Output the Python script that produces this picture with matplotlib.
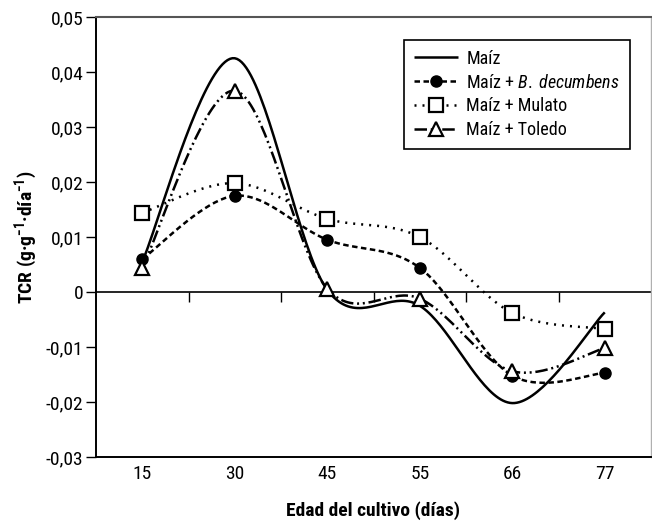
import numpy as np
import matplotlib.pyplot as plt
from matplotlib import font_manager
from matplotlib.ticker import FixedLocator, NullFormatter

nombres = {f.name for f in font_manager.fontManager.ttflist}
angostas = [n for n in ['Liberation Sans Narrow', 'Roboto Condensed', 'DejaVu Sans Condensed',
                        'Liberation Sans'] if n in nombres]
fuente = angostas[0] if angostas else 'DejaVu Sans'

plt.rcParams['font.family'] = [fuente, 'DejaVu Sans']
plt.rcParams['mathtext.fontset'] = 'custom'
plt.rcParams['mathtext.it'] = fuente + ':italic'
plt.rcParams['mathtext.rm'] = fuente
plt.rcParams['mathtext.bf'] = fuente + ':bold'

dias = ['15', '30', '45', '55', '66', '77']
maiz = [0.0055, 0.0425, 0.0004, -0.0025, -0.0202, -0.0037]
decumbens = [0.0060, 0.0175, 0.0095, 0.0044, -0.0152, -0.0147]
mulato = [0.0144, 0.0198, 0.0133, 0.0100, -0.0038, -0.0067]
toledo = [0.0044, 0.0366, 0.0006, -0.0012, -0.0144, -0.0102]

yticks = [-0.03, -0.02, -0.01, 0, 0.01, 0.02, 0.03, 0.04, 0.05]
yticklabels = ['-0,03', '-0,02', '-0,01', '0', '0,01', '0,02', '0,03', '0,04', '0,05']


def suave(y, n=40):
    # bezier spline through the points, like a spreadsheet "smoothed line"
    x = np.arange(len(y), dtype=float)
    y = np.asarray(y, dtype=float)
    px = np.concatenate([[x[0]], x, [x[-1]]])
    py = np.concatenate([[y[0]], y, [y[-1]]])
    t = np.linspace(0, 1, n, endpoint=False)
    xs, ys = [], []
    for i in range(len(y) - 1):
        for p, out in ((px, xs), (py, ys)):
            b0 = p[i + 1]
            b3 = p[i + 2]
            b1 = b0 + (p[i + 2] - p[i]) / 6
            b2 = b3 - (p[i + 3] - p[i + 1]) / 6
            out.append((1 - t)**3*b0 + 3*(1 - t)**2*t*b1 + 3*(1 - t)*t**2*b2 + t**3*b3)
    xs.append([x[-1]])
    ys.append([y[-1]])
    idx = [i*n for i in range(len(y))]
    return np.concatenate(xs), np.concatenate(ys), idx


fig = plt.figure(figsize=(6.52, 5.25), dpi=100)
ax = fig.add_axes([96/652, 1 - 457/525, 555/652, 440/525])

series = [
    (maiz, 'Maíz', dict(ls='-', lw=1.8, marker=None)),
    (decumbens, 'Maíz + $\\it{B.}$ $\\it{decumbens}$',
     dict(ls=(0, (2.2, 1.4)), lw=1.8, marker='o', ms=8, mfc='black')),
    (mulato, 'Maíz + Mulato',
     dict(ls=(0, (0.8, 2.4)), lw=1.8, marker='s', ms=10, mfc='white', mew=1.6)),
    (toledo, 'Maíz + Toledo',
     dict(ls=(0, (5, 1.5, 0.8, 1.5, 0.8, 1.5)), lw=1.8, marker='^', ms=10, mfc='white', mew=1.6)),
]

for vals, lab, st in series:
    xs, ys, idx = suave(vals)
    ax.plot(xs, ys, color='black', markevery=idx, label=lab, solid_capstyle='butt',
            dash_capstyle='butt', **st)

ax.set_xlim(-0.5, len(dias) - 0.5)
ax.set_ylim(-0.03, 0.05)
ax.set_yticks(yticks)
ax.set_yticklabels(yticklabels)
ax.set_xticks(range(len(dias)))
ax.set_xticklabels(dias)
ax.tick_params(axis='x', length=0, pad=6, labelsize=14)
ax.tick_params(axis='y', direction='out', length=7, width=1, labelsize=14, pad=2)

# eje en cero con marcas entre categorias
eje0 = ax.secondary_xaxis(0.375)
eje0.xaxis.set_major_locator(FixedLocator(np.arange(0.5, len(dias) - 1, 1)))
eje0.xaxis.set_major_formatter(NullFormatter())
eje0.tick_params(direction='out', length=7, width=1)
eje0.spines['bottom'].set_linewidth(1.2)

for s in ['left', 'bottom']:
    ax.spines[s].set_linewidth(1.4)
ax.spines['top'].set_color('#555555')
ax.spines['top'].set_linewidth(1.5)
ax.spines['right'].set_color('#b0b0b0')
ax.spines['right'].set_linewidth(1.0)

ax.set_xlabel('Edad del cultivo (días)', fontsize=14, fontweight='bold', labelpad=13)
ax.set_ylabel('TCR (g·g$^{\\mathbf{-1}}$·día$^{\\mathbf{-1}}$)', fontsize=14, fontweight='bold')
ax.yaxis.set_label_coords(-0.10, 0.5)

leg = ax.legend(loc='upper right', bbox_to_anchor=(0.962, 0.948), borderaxespad=0,
                fontsize=13, frameon=True, fancybox=False, edgecolor='black', framealpha=1,
                handlelength=2.45, borderpad=0.55, labelspacing=0.32, handletextpad=0.45)
leg.get_frame().set_linewidth(1.2)

fig.savefig('out.png', dpi=100)
